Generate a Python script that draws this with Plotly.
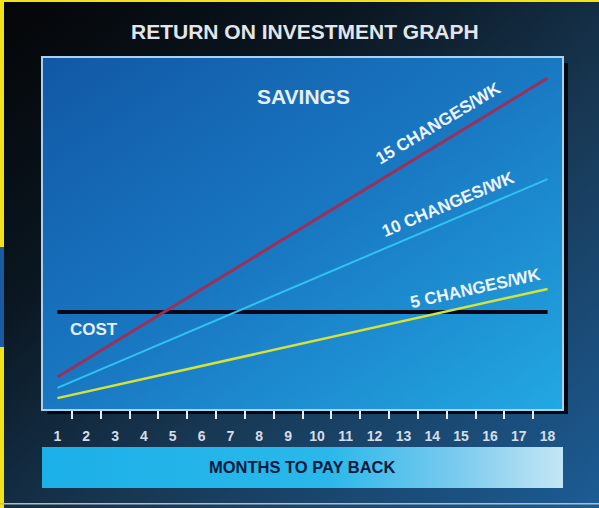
import base64
import plotly.graph_objects as go

# ---- data ----
month_ticks = list(range(1, 19))
month_labels = [str(m) for m in month_ticks]
line_months = [1, 18]
savings_15 = [9.1, 94.3]
savings_10 = [6.0, 65.5]
savings_5 = [3.1, 34.2]
cost_months = [1, 18]
cost_level = [27.6, 27.6]
series_names = ["15 CHANGES/WK", "10 CHANGES/WK", "5 CHANGES/WK"]

# ---- layout geometry ----
W, H = 599, 508
L, R, T, B = 43, 37, 58, 99
PW, PH = W - L - R, H - T - B


def px(x):
    return (x - L) / PW


def py(y):
    return (H - B - y) / PH


svg = f"""<svg xmlns='http://www.w3.org/2000/svg' width='{W}' height='{H}' viewBox='0 0 {W} {H}' preserveAspectRatio='none'>
<defs>
<linearGradient id='bg' x1='0' y1='0' x2='1' y2='1'>
<stop offset='0' stop-color='#040507'/>
<stop offset='0.3' stop-color='#0a1620'/>
<stop offset='0.6' stop-color='#183854'/>
<stop offset='1' stop-color='#1c5c95'/>
</linearGradient>
<linearGradient id='pg' x1='0' y1='0' x2='1' y2='1'>
<stop offset='0' stop-color='#1158a6'/>
<stop offset='0.5' stop-color='#1978c2'/>
<stop offset='1' stop-color='#22a8e2'/>
</linearGradient>
<linearGradient id='bar' x1='0' y1='0' x2='1' y2='0'>
<stop offset='0' stop-color='#1cb0e8'/>
<stop offset='0.55' stop-color='#2ab8ea'/>
<stop offset='0.8' stop-color='#7ccbee'/>
<stop offset='1' stop-color='#c4e6f5'/>
</linearGradient>
</defs>
<rect x='0' y='0' width='{W}' height='{H}' fill='url(#bg)'/>
<rect x='0' y='0' width='{W}' height='2' fill='#f2e21a'/>
<rect x='0' y='0' width='4' height='{H}' fill='#f2e21a'/>
<rect x='0' y='247' width='4' height='100' fill='#1a5aa0'/>
<rect x='0' y='503' width='{W}' height='1.5' fill='#b4bcbc'/>
<rect x='47' y='63' width='521' height='351' fill='#03060c'/>
<rect x='{L}' y='{T}' width='{PW}' height='{PH}' fill='url(#pg)'/>
<rect x='42' y='447' width='521' height='41' fill='url(#bar)'/>
</svg>"""
svg_uri = "data:image/svg+xml;base64," + base64.b64encode(svg.encode()).decode()

fig = go.Figure()
fig.add_trace(go.Scatter(x=cost_months, y=cost_level, mode="lines",
                         line=dict(color="#060818", width=4), name="COST"))
fig.add_trace(go.Scatter(x=line_months, y=savings_5, mode="lines",
                         line=dict(color="#d6e23c", width=2.5), name=series_names[2]))
fig.add_trace(go.Scatter(x=line_months, y=savings_10, mode="lines",
                         line=dict(color="#30c2f0", width=2), name=series_names[1]))
fig.add_trace(go.Scatter(x=line_months, y=savings_15, mode="lines",
                         line=dict(color="#9c3058", width=3), name=series_names[0]))

font = "Liberation Sans, Arial, sans-serif"
ann = []
ann.append(dict(text="<b>RETURN ON INVESTMENT GRAPH</b>", x=px(305), y=py(31),
                font=dict(size=21, color="#e2e6ea", family=font)))
ann.append(dict(text="<b>SAVINGS</b>", x=px(303), y=py(96),
                font=dict(size=21, color="#e6eef6", family=font)))
ann.append(dict(text="<b>COST</b>", x=px(94), y=py(329),
                font=dict(size=17, color="#e6eef6", family=font)))
ann.append(dict(text="<b>" + series_names[0] + "</b>", x=px(438), y=py(123), textangle=-31,
                font=dict(size=17, color="#eef4fa", family=font)))
ann.append(dict(text="<b>" + series_names[1] + "</b>", x=px(448), y=py(204), textangle=-23,
                font=dict(size=17, color="#eef4fa", family=font)))
ann.append(dict(text="<b>" + series_names[2] + "</b>", x=px(475), y=py(288), textangle=-12.5,
                font=dict(size=17, color="#eef4fa", family=font)))
ann.append(dict(text="<b>MONTHS TO PAY BACK</b>", x=px(302), y=py(467),
                font=dict(size=16.5, color="#0a1a40", family=font)))
for a in ann:
    a.update(xref="paper", yref="paper", showarrow=False, xanchor="center", yanchor="middle")

fig.update_layout(
    width=W, height=H,
    margin=dict(l=L, r=R, t=T, b=B),
    paper_bgcolor="#0a1620",
    plot_bgcolor="rgba(0,0,0,0)",
    showlegend=False,
    annotations=ann,
    images=[dict(source=svg_uri, xref="paper", yref="paper",
                 x=-L / PW, y=1 + T / PH, sizex=W / PW, sizey=H / PH,
                 xanchor="left", yanchor="top", sizing="stretch", layer="below")],
)
fig.update_xaxes(range=[0.5, 18.5], tickmode="array", tickvals=month_ticks, ticktext=month_labels,
                 ticks="outside", ticklen=13, tickcolor="rgba(0,0,0,0)",
                 tickfont=dict(size=14, color="#d4dee8", family=font, weight="bold"),
                 showgrid=False, zeroline=False,
                 showline=True, mirror=True, linewidth=2, linecolor="#a9d2f2",
                 minor=dict(tickmode="array", tickvals=[m + 0.5 for m in month_ticks[:-1]],
                            ticks="outside", ticklen=8, tickwidth=2, tickcolor="#e8eef4"))
fig.update_yaxes(range=[0, 100], showticklabels=False, ticks="", showgrid=False, zeroline=False,
                 showline=True, mirror=True, linewidth=2, linecolor="#a9d2f2")

fig.write_html("out.html", config={"displayModeBar": False},
               post_script="document.body.style.margin='0';document.body.style.overflow='hidden';")
